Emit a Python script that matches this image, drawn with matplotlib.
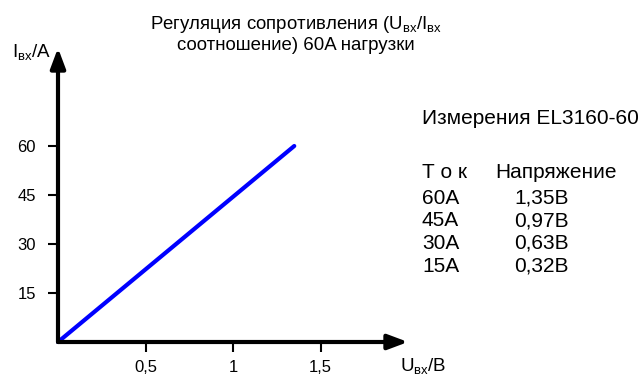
import matplotlib
matplotlib.use("Agg")
import matplotlib.pyplot as plt

plt.rcParams['font.family'] = ['Liberation Sans', 'DejaVu Sans']
plt.rcParams['mathtext.fontset'] = 'custom'
plt.rcParams['mathtext.rm'] = 'Liberation Sans'
plt.rcParams['mathtext.it'] = 'Liberation Sans'

# drawn line (straight from origin to the 60 A point)
line_voltage = [0, 1.35]
line_current = [0, 60]
x_ticks = [0.5, 1, 1.5]
x_tick_labels = ["0,5", "1", "1,5"]
y_ticks = [15, 30, 45, 60]
y_tick_labels = ["15", "30", "45", "60"]
table_current = ["60A", "45A", "30A", "15A"]
table_voltage = ["1,35B", "0,97B", "0,63B", "0,32B"]

W, H = 639, 378
fig = plt.figure(figsize=(W / 100, H / 100), dpi=100)

ox, oy = 58, 342
ax = fig.add_axes([ox / W, (H - oy) / H, 350 / W, 294 / H])
ax.set_xlim(0, 2.0)
ax.set_ylim(0, 90)
for s in ax.spines.values():
    s.set_visible(False)
ax.patch.set_visible(False)

ax.plot(line_voltage, line_current, color='#0000ff', lw=3, solid_capstyle='round', clip_on=False, zorder=3)

# axes with arrows
ax.annotate('', xy=(1.0, 0), xytext=(0, 0), xycoords='axes fraction',
            arrowprops=dict(arrowstyle='-|>,head_length=1.2,head_width=0.45', lw=3, color='black',
                            shrinkA=0, shrinkB=0), annotation_clip=False)
ax.annotate('', xy=(0, 1.0), xytext=(0, 0), xycoords='axes fraction',
            arrowprops=dict(arrowstyle='-|>,head_length=1.2,head_width=0.45', lw=3, color='black',
                            shrinkA=0, shrinkB=0), annotation_clip=False)

ax.set_xticks(x_ticks)
ax.set_xticklabels(x_tick_labels)
ax.set_yticks(y_ticks)
ax.set_yticklabels(y_tick_labels)
ax.tick_params(axis='both', direction='out', length=7, width=1.5, labelsize=12, colors='black')
ax.tick_params(axis='x', pad=6)
ax.tick_params(axis='y', pad=9)

def px(x, y):
    return x / W, 1 - y / H

fig.text(*px(12, 52), r'$\mathrm{I_{вх}}$/A', fontsize=13.5, ha='left', va='center')
fig.text(*px(400, 366), r'$\mathrm{U_{вх}}$/B', fontsize=13.5, ha='left', va='center')

fig.text(*px(296, 34), r'Регуляция сопротивления ($\mathrm{U_{вх}}$/$\mathrm{I_{вх}}$' + '\nсоотношение) 60A нагрузки',
         fontsize=13.4, ha='center', va='center', linespacing=1.2)

fs = 15
fig.text(*px(422, 118), 'Измерения EL3160-60', fontsize=fs, ha='left', va='center')
fig.text(*px(422, 173), 'Т о к', fontsize=fs, ha='left', va='center')
fig.text(*px(495, 173), 'Напряжение', fontsize=fs, ha='left', va='center')
rows_y = [198, 221, 243, 266]
for c, v, yy in zip(table_current, table_voltage, rows_y):
    fig.text(*px(422, yy), c, fontsize=fs, ha='left', va='center')
    fig.text(*px(569, yy), v, fontsize=fs, ha='right', va='center')

fig.savefig('out.png', dpi=100)
